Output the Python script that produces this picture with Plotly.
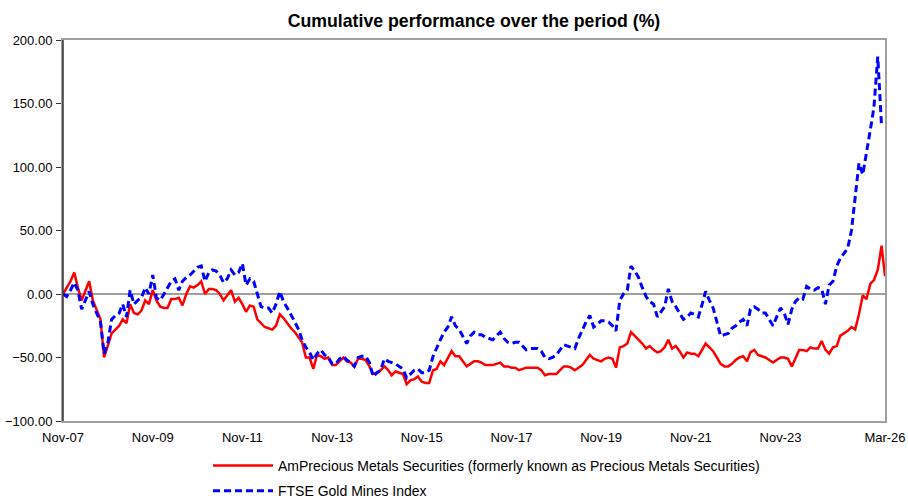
import pandas as pd
import plotly.graph_objects as go

# Monthly dates Nov-07 .. Mar-26
dates = pd.date_range("2007-11-01", "2026-03-01", freq="MS")

fund = [
    0, 5, 10, 17, 5, -5, 3, 10, -5, -12,
    -20, -50, -40, -31, -28, -25, -20, -23, -8, -15,
    -16, -13, -5, -8, 3, -5, -10, -11, -11, -4,
    -4, -3, -9, 0, 6, 5, 7, 10, 0, 4,
    4, 3, 0, -5, -1, 3, -6, -3, -8, -14,
    -9, -10, -20, -23, -26, -27, -28, -25, -16, -19,
    -23, -27, -30, -34, -38, -50, -50, -59, -48, -49,
    -51, -50, -56, -56, -53, -50, -53, -54, -57, -51,
    -51, -52, -57, -63, -62, -60, -57, -60, -64, -61,
    -62, -63, -71, -68, -67, -65, -69, -70, -70, -60,
    -59, -53, -56, -50, -45, -49, -49, -53, -57, -55,
    -53, -53, -54, -56, -56, -56, -55, -54, -57, -57,
    -58, -58, -60, -59, -58, -58, -58, -58, -60, -64,
    -63, -63, -63, -60, -57, -57, -58, -60, -58, -56,
    -52, -48, -51, -52, -53, -51, -50, -51, -58, -42,
    -41, -39, -30, -33, -36, -39, -43, -41, -44, -46,
    -45, -42, -36, -43, -41, -45, -50, -46, -47, -47,
    -49, -44, -39, -42, -45, -50, -55, -57, -57, -55,
    -52, -50, -49, -53, -46, -44, -48, -49, -50, -52,
    -54, -52, -50, -50, -51, -57, -50, -44, -44, -45,
    -42, -43, -43, -37, -44, -47, -42, -41, -33, -31,
    -29, -26, -28, -16, -1, -4, 8, 11, 19, 38,
    14,
]

index = [
    0, -2, 3, 9, 3, -12, -5, 2, -8, -15,
    -22, -47, -38, -20, -17, -15, -8, -18, 3, -8,
    -5, -3, 5, 0, 15, -3, -5, 0, 5, 10,
    12, 3, 10, 13, 15, 18, 21, 22, 10, 17,
    19, 18, 15, 9, 12, 19, 15, 17, 24, 7,
    12, 10, 0, -10, -11, -11, -15, -8, 2, -6,
    -11, -16, -22, -28, -36, -42, -46, -52, -47, -44,
    -48, -50, -55, -55, -51, -49, -52, -54, -57, -50,
    -49, -49, -54, -65, -62, -60, -51, -53, -54, -55,
    -57, -59, -66, -63, -60, -59, -62, -62, -60, -49,
    -42, -36, -30, -26, -18, -25, -28, -33, -39, -33,
    -30, -32, -32, -34, -35, -36, -33, -30, -35, -38,
    -39, -38, -38, -41, -44, -43, -43, -43, -45, -50,
    -51, -50, -48, -44, -40, -41, -42, -43, -35, -28,
    -22, -17, -26, -24, -21, -21, -22, -25, -29, -5,
    0, 3, 22, 18, 13, 5, -2, -6, -8, -18,
    -14, -10, 4, -6, -10, -15, -20, -18, -15, -16,
    -18, -8, 2, -5, -11, -22, -33, -32, -31, -27,
    -25, -22, -20, -25, -12, -10, -12, -15, -15, -20,
    -25, -18, -11, -15, -24, -12, -6, -3, -4, 6,
    4, 3, 5, 4, -8, 7, 10, 22, 28, 32,
    36, 50, 77, 103, 94, 113, 129, 147, 187, 132,
]
index = index[:len(dates)]
fund = fund[:len(dates)]

series_names = [
    "AmPrecious Metals Securities (formerly known as Precious Metals Securities)",
    "FTSE Gold Mines Index",
]
tick_dates = ["2007-11-01", "2009-11-01", "2011-11-01", "2013-11-01", "2015-11-01",
              "2017-11-01", "2019-11-01", "2021-11-01", "2023-11-01", "2026-03-01"]
tick_labels = ["Nov-07", "Nov-09", "Nov-11", "Nov-13", "Nov-15",
               "Nov-17", "Nov-19", "Nov-21", "Nov-23", "Mar-26"]
y_ticks = [-100, -50, 0, 50, 100, 150, 200]

FONT = "Arial, 'Liberation Sans', sans-serif"

fig = go.Figure()
fig.add_trace(go.Scatter(x=dates, y=fund, mode="lines", name=series_names[0],
                         legendgroup="fund",
                         line=dict(color="#ff0000", width=2.5)))
fig.add_trace(go.Scatter(x=dates, y=index, mode="lines", name=series_names[1],
                         legendgroup="index",
                         line=dict(color="#0000ff", width=3, dash="7px,4px")))

fig.update_layout(
    width=908, height=500,
    margin=dict(l=63, r=23, t=40, b=79, autoexpand=False),
    paper_bgcolor="white", plot_bgcolor="white",
    font=dict(family=FONT, size=13, color="#000000"),
    title=dict(text="<b>Cumulative performance over the period (%)</b>",
               x=0.5, xanchor="center", xref="paper",
               y=1 - 21 / 500, yanchor="middle", yref="container",
               font=dict(family=FONT, size=17.7, color="#000000")),
    showlegend=True,
    legend=dict(orientation="v", x=208 / 908, xanchor="left", xref="container",
                y=1 - 450 / 500, yanchor="top", yref="container",
                font=dict(family=FONT, size=14, color="#000000"),
                tracegroupgap=4, itemwidth=60, bgcolor="rgba(0,0,0,0)"),
    xaxis=dict(type="date", range=["2007-11-01", "2026-03-01"],
               tickvals=tick_dates, ticktext=tick_labels, tickangle=0,
               showgrid=False, zeroline=False, automargin=False,
               showline=True, linecolor="#a0a0a0", linewidth=2, mirror=True,
               ticks="", ticklabelstandoff=3,
               tickfont=dict(size=13, color="#000000")),
    yaxis=dict(range=[-100, 200], tickvals=y_ticks, tickformat=".2f",
               showgrid=False, zeroline=True, zerolinecolor="#a0a0a0", zerolinewidth=2,
               showline=True, linecolor="#a0a0a0", linewidth=2, mirror=True,
               automargin=False, ticklabelstandoff=1,
               ticks="outside", ticklen=5, tickcolor="#333333",
               tickfont=dict(size=13, color="#000000")),
)
# dark left axis line
fig.add_shape(type="line", xref="paper", yref="paper", x0=0, x1=0, y0=0, y1=1,
              line=dict(color="#333333", width=1.5))

fig.write_html(
    "out.html",
    config={"displayModeBar": False},
    post_script="document.body.style.margin='0';document.body.style.padding='0';",
)
